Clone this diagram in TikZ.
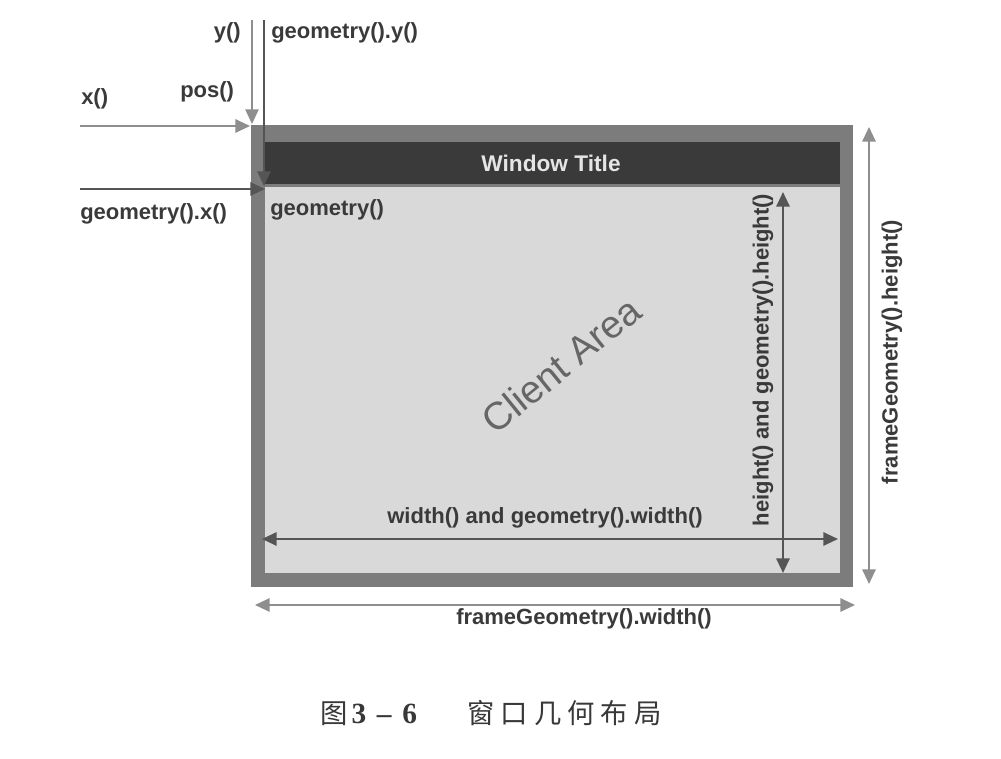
\documentclass[tikz,border=0pt]{standalone}
\usepackage{fontspec}
\setmainfont{Liberation Sans}
\newfontfamily\cjk{Noto Sans CJK SC}
\newfontfamily\capserif{Liberation Serif}
\usetikzlibrary{arrows.meta}
\definecolor{framegray}{HTML}{7C7C7C}
\definecolor{titlegray}{HTML}{3A3A3A}
\definecolor{clientgray}{HTML}{D9D9D9}
\definecolor{arrdark}{HTML}{555555}
\definecolor{arrlight}{HTML}{8E8E8E}
\definecolor{txt}{HTML}{3A3A3A}
\begin{document}
\begin{tikzpicture}[x=0.75pt,y=-0.75pt,
  lbl/.style={font=\bfseries\fontsize{16.5}{18}\selectfont, text=txt, inner sep=0pt},
  box/.style={inner sep=0pt, outer sep=0pt, draw=none},
  tip/.style={-{Triangle[length=11pt,width=10pt]}},
  tips/.style={{Triangle[length=11pt,width=10pt]}-{Triangle[length=11pt,width=10pt]}},
  arr/.style={draw=arrdark, line width=1.5pt},
  arrl/.style={draw=arrlight, line width=1.5pt}]
\useasboundingbox[fill=white] (0,0) rectangle (1001,759);
% window
\node[box, fill=framegray, minimum width=451.5pt, minimum height=346.5pt] (frame) at (552,356) {};
\node[box, fill=titlegray, minimum width=431.25pt, minimum height=31.5pt] (title) at (552.5,163) {};
\node[box, fill=clientgray, minimum width=431.25pt, minimum height=289.5pt] (client) at (552.5,380) {};
\node[font=\bfseries\fontsize{17}{19}\selectfont, text=white!90!black, inner sep=0pt] (tt) at (551,163) {Window Title};
\node[lbl, anchor=west] (geo) at (270,210) {geometry()};
\node[font=\fontsize{29}{32}\selectfont, text=gray!80!black, rotate=39, inner sep=0pt] (ca) at (561,365) {Client Area};
% coordinates
\coordinate (y0) at (252,20);   \coordinate (y1) at (252,124);
\coordinate (gy0) at (264,20);  \coordinate (gy1) at (264,186);
\coordinate (x0) at (80,126);   \coordinate (x1) at (250,126);
\coordinate (gx0) at (80,189);  \coordinate (gx1) at (265,189);
\coordinate (w0) at (262,539);  \coordinate (w1) at (838,539);
\coordinate (h0) at (783,192);  \coordinate (h1) at (783,573);
\coordinate (fh0) at (869,127); \coordinate (fh1) at (869,584);
\coordinate (fw0) at (255,605); \coordinate (fw1) at (855,605);
% position arrows
\draw[arrl, line width=1.1pt, tip] (y0) -- (y1);
\draw[arr, line width=1.1pt, tip] (gy0) -- (gy1);
\draw[arrl, tip] (x0) -- (x1);
\draw[arr, tip] (gx0) -- (gx1);
% size arrows
\draw[arr, tips] (w0) -- (w1);
\draw[arr, tips] (h0) -- (h1);
\draw[arrl, tips] (fh0) -- (fh1);
\draw[arrl, tips] (fw0) -- (fw1);
% labels
\node[lbl, anchor=east] (ly) at (241,33) {y()};
\node[lbl, anchor=west] (lgy) at (271,33) {geometry().y()};
\node[lbl, anchor=west] (lx) at (81,99) {x()};
\node[lbl, anchor=west] (lpos) at (180,92) {pos()};
\node[lbl, anchor=west] (lgx) at (80,214) {geometry().x()};
\node[lbl] (lw) at (545,518) {width() and geometry().width()};
\node[lbl, rotate=90] (lh) at (763,360) {height() and geometry().height()};
\node[lbl, rotate=90] (lfh) at (892,352) {frameGeometry().height()};
\node[lbl] (lfw) at (584,619) {frameGeometry().width()};
% caption
\node[font=\cjk\fontsize{20.5}{23}\selectfont, text=black!78, inner sep=0pt, anchor=west] (cap) at (320,713)
  {图\hspace{3pt}{\capserif\bfseries\fontsize{22}{24}\selectfont 3\hspace{8pt}–\hspace{8pt}6}\hspace{38pt}窗\hspace{4.5pt}口\hspace{4.5pt}几\hspace{4.5pt}何\hspace{4.5pt}布\hspace{4.5pt}局};
\end{tikzpicture}
\end{document}
